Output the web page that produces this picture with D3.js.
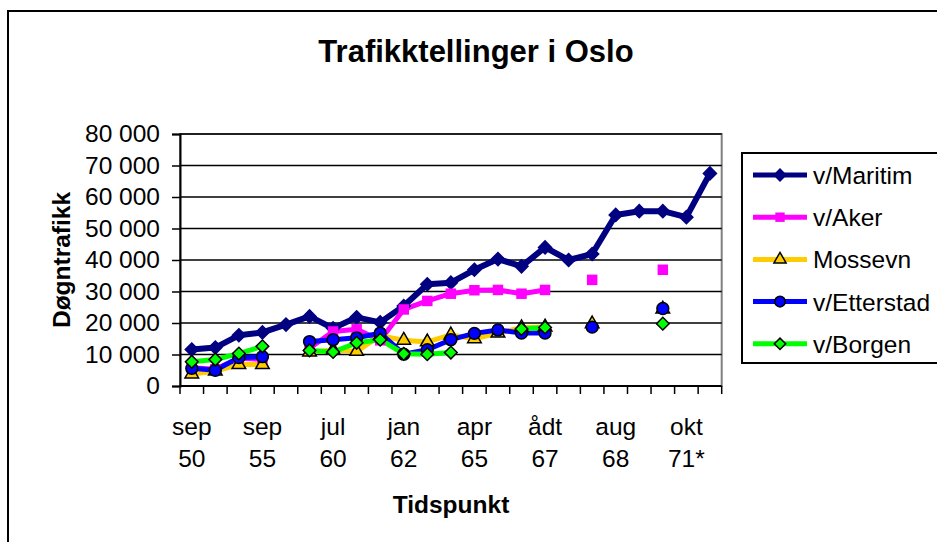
<!DOCTYPE html>
<html>
<head>
<meta charset="utf-8">
<script src="https://cdn.jsdelivr.net/npm/d3@7"></script>
<style>
  body { margin: 0; background: #fff; }
  svg { font-family: "Liberation Sans", Arial, sans-serif; }
</style>
</head>
<body>
<svg id="chart" width="937" height="542"></svg>
<script>
// tick labels shown on every third category
var tickMonths = ["sep", "sep", "jul", "jan", "apr", "ådt", "aug", "okt"];
var tickYears = ["50", "55", "60", "62", "65", "67", "68", "71*"];

// 23 counting points along the x axis
var categories = ["c0", "c1", "c2", "c3", "c4", "c5", "c6", "c7", "c8", "c9", "c10", "c11",
  "c12", "c13", "c14", "c15", "c16", "c17", "c18", "c19", "c20", "c21", "c22"];

var maritim = [11600, 12200, 16100, 17000, 19500, 22100, 18300, 21800, 20200, 25400, 32300, 32800,
  36900, 40300, 38000, 44000, 40000, 41900, 54300, 55500, 55500, 53600, 67500];
var aker = [5800, 5300, 8800, 8500, null, 12000, 17300, 18000, 14500, 24300, 27000, 29300,
  30400, 30500, 29300, 30500, null, 33700, null, null, 36900, null, null];
var mossevn = [3800, 4700, 6800, 6800, null, 10800, 11400, 11000, 16000, 14500, 14000, 16200,
  15000, 16800, 18500, 18700, null, 19700, null, null, 24400, null, null];
var etterstad = [5600, 5000, 9000, 9300, null, 14100, 14700, 15300, 16800, 10100, 11500, 14700,
  16700, 17800, 16800, 16800, null, 18700, null, null, 24600, null, null];
var borgen = [7700, 8400, 10300, 12600, null, 11300, 10800, 13700, 14700, 10200, 10100, 10600,
  null, null, 18100, 18600, null, null, null, null, 19800, null, null];

var yTicks = [0, 10000, 20000, 30000, 40000, 50000, 60000, 70000, 80000];

var series = [
  {name: "v/Maritim", values: maritim, color: "#000080", symbol: d3.symbolSquare, rot: 45, size: 85, stroke: "#000080"},
  {name: "v/Aker", values: aker, color: "#ff00ff", symbol: d3.symbolSquare, rot: 0, size: 110, stroke: "none"},
  {name: "Mossevn", values: mossevn, color: "#ffcc00", symbol: d3.symbolTriangle, rot: 0, size: 80, stroke: "#000"},
  {name: "v/Etterstad", values: etterstad, color: "#0000ff", symbol: d3.symbolCircle, rot: 0, size: 110, stroke: "#000"},
  {name: "v/Borgen", values: borgen, color: "#00ff00", symbol: d3.symbolSquare, rot: 45, size: 80, stroke: "#000"}
];

var svg = d3.select("#chart");

// outer chart frame, only top and left edges are inside the window
svg.append("rect")
  .attr("x", 8).attr("y", 11)
  .attr("width", 1000).attr("height", 600)
  .attr("fill", "none").attr("stroke", "#000").attr("stroke-width", 2);

var plot = {left: 180, right: 721.7, top: 134, bottom: 386};

var x = d3.scaleBand()
  .domain(categories)
  .range([plot.left, plot.right]);

var y = d3.scaleLinear()
  .domain([0, 80000])
  .range([plot.bottom, plot.top]);

// plot area border
svg.append("rect")
  .attr("x", plot.left).attr("y", plot.top)
  .attr("width", plot.right - plot.left).attr("height", plot.bottom - plot.top)
  .attr("fill", "none").attr("stroke", "#808080").attr("stroke-width", 2);

// gridlines
svg.append("g")
  .selectAll("line")
  .data(yTicks.slice(1))
  .join("line")
  .attr("x1", plot.left).attr("x2", plot.right)
  .attr("y1", function(d) { return y(d); })
  .attr("y2", function(d) { return y(d); })
  .attr("stroke", "#000").attr("stroke-width", 1.5);

// y axis
var fmt = function(d) { return d3.format(",")(d).replace(",", " "); };
var yAxis = svg.append("g")
  .attr("transform", "translate(" + plot.left + ",0)")
  .call(d3.axisLeft(y).tickValues(yTicks).tickFormat(fmt).tickSize(8).tickPadding(12));
yAxis.select(".domain").attr("stroke", "#000").attr("stroke-width", 2);
yAxis.selectAll(".tick line").attr("stroke", "#000").attr("stroke-width", 1.5);
yAxis.selectAll("text").attr("font-size", 24.5).attr("fill", "#000")
  .attr("font-family", "Liberation Sans, Arial, sans-serif");

// x axis, tick marks on category boundaries
var xAxis = svg.append("g")
  .attr("transform", "translate(0," + plot.bottom + ")");
xAxis.append("line")
  .attr("x1", plot.left).attr("x2", plot.right)
  .attr("stroke", "#000").attr("stroke-width", 2);
xAxis.selectAll(".xtick")
  .data(categories.concat(["end"]))
  .join("line")
  .attr("class", "xtick")
  .attr("x1", function(d, i) { return plot.left + i * x.step(); })
  .attr("x2", function(d, i) { return plot.left + i * x.step(); })
  .attr("y1", 0).attr("y2", 8)
  .attr("stroke", "#000").attr("stroke-width", 1.5);

// two line category labels on every third category
var labelG = svg.append("g")
  .attr("font-size", 24.5).attr("text-anchor", "middle").attr("fill", "#000");
tickMonths.forEach(function(m, i) {
  var cx = x(categories[i * 3]) + x.bandwidth() / 2;
  labelG.append("text").attr("x", cx).attr("y", 435).text(m);
  labelG.append("text").attr("x", cx).attr("y", 467).text(tickYears[i]);
});

// lines
var line = d3.line()
  .defined(function(d) { return d != null; })
  .x(function(d, i) { return x(categories[i]) + x.bandwidth() / 2; })
  .y(function(d) { return y(d); });

series.forEach(function(s) {
  svg.append("path")
    .datum(s.values)
    .attr("fill", "none")
    .attr("stroke", s.color)
    .attr("stroke-width", s.name == "v/Maritim" ? 6 : 5)
    .attr("stroke-linejoin", "round")
    .attr("d", line);
});

// markers
series.forEach(function(s) {
  var pts = [];
  s.values.forEach(function(v, i) { if (v != null) pts.push({i: i, v: v}); });
  svg.append("g")
    .selectAll("path")
    .data(pts)
    .join("path")
    .attr("transform", function(d) {
      return "translate(" + (x(categories[d.i]) + x.bandwidth() / 2) + "," + y(d.v) + ") rotate(" + s.rot + ")";
    })
    .attr("d", d3.symbol().type(s.symbol).size(s.size))
    .attr("fill", s.color)
    .attr("stroke", s.stroke)
    .attr("stroke-width", 1.5);
});

// titles
svg.append("text")
  .attr("x", 476).attr("y", 62)
  .attr("text-anchor", "middle")
  .attr("font-size", 31).attr("font-weight", "bold")
  .text("Trafikktellinger i Oslo");

svg.append("text")
  .attr("transform", "translate(70,260) rotate(-90)")
  .attr("text-anchor", "middle")
  .attr("font-size", 24.5).attr("font-weight", "bold")
  .text("Døgntrafikk");

svg.append("text")
  .attr("x", 451).attr("y", 513)
  .attr("text-anchor", "middle")
  .attr("font-size", 24.5).attr("font-weight", "bold")
  .text("Tidspunkt");

// legend
var legend = svg.append("g");
legend.append("rect")
  .attr("x", 742).attr("y", 153)
  .attr("width", 300).attr("height", 210)
  .attr("fill", "#fff").attr("stroke", "#000").attr("stroke-width", 2);

series.forEach(function(s, i) {
  var ly = 175 + i * 42.2;
  legend.append("line")
    .attr("x1", 753).attr("x2", 807)
    .attr("y1", ly).attr("y2", ly)
    .attr("stroke", s.color).attr("stroke-width", 5);
  legend.append("path")
    .attr("transform", "translate(780," + ly + ") rotate(" + s.rot + ")")
    .attr("d", d3.symbol().type(s.symbol).size(s.size * 0.8))
    .attr("fill", s.color)
    .attr("stroke", s.stroke)
    .attr("stroke-width", 1.5);
  legend.append("text")
    .attr("x", 813).attr("y", ly + 9)
    .attr("font-size", 24.5)
    .text(s.name);
});
</script>
</body>
</html>
